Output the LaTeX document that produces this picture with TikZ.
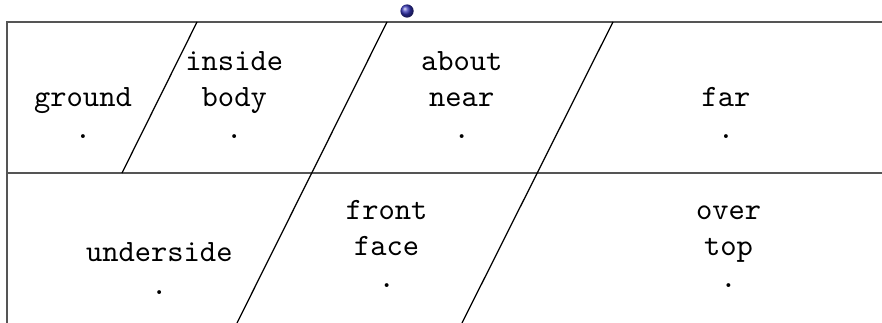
\documentclass[tikz,border=0pt]{standalone}
\usepackage{tikz}
\usetikzlibrary{positioning,calc}
\definecolor{framegray}{HTML}{555555}
\definecolor{balldark}{HTML}{3434B4}

\begin{document}
\begin{tikzpicture}[
  frameline/.style={draw=framegray,line width=0.6pt},
  slantline/.style={draw=black,line width=0.4pt},
  zonelabel/.style={font=\ttfamily,align=center,anchor=south,inner sep=0pt}
]
  \clip (0,0) rectangle (10,3.662);
  % frame
  \draw[frameline] (10,3.413) -- (0.08,3.413) -- (0.08,-0.2);
  \draw[frameline] (0.08,1.70) -- (10,1.70);
  % slanted borders
  \draw[slantline] (2.234,3.413) -- (1.383,1.70);
  \draw[slantline] (4.388,3.413) -- (2.687,0);
  \draw[slantline] (6.95,3.413) -- (5.238,0);
  % ball
  \shade[ball color=balldark] (4.615,3.537) circle (0.075);
  % upper row
  \node[zonelabel] (ground) at (0.941,2.08) {ground\\[-1.5pt].};
  \node[zonelabel] (inside) at (2.656,2.08) {inside\\[-0.5pt]body\\[-1.5pt].};
  \node[zonelabel] (about) at (5.235,2.08) {about\\[-0.5pt]near\\[-1.5pt].};
  \node[zonelabel] (far) at (8.231,2.08) {far\\[-1.5pt].};
  % lower row
  \node[zonelabel] (underside) at (1.806,0.32) {underside\\[-1.5pt].};
  \node[zonelabel] (front) at (4.384,0.39) {front\\[-0.5pt]face\\[-1.5pt].};
  \node[zonelabel] (over) at (8.26,0.39) {over\\[-0.5pt]top\\[-1.5pt].};
\end{tikzpicture}
\end{document}
